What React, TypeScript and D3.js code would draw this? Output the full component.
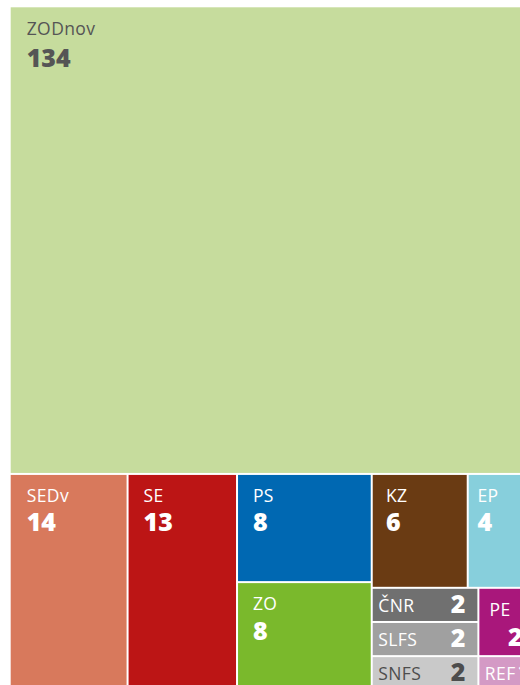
import React, { useRef, useEffect } from 'react';
import * as d3 from 'd3';

const names = ['ZODnov', 'SEDv', 'SE', 'PS', 'ZO', 'KZ', 'EP', 'ČNR', 'SLFS', 'SNFS', 'PE', 'REF'];
const values = [134, 14, 13, 8, 8, 6, 4, 2, 2, 2, 2, 1];
const colors = ['#c6dc9d', '#d8795c', '#bc1515', '#0068b2', '#7ab92c', '#6a3b13', '#87cfdc', '#707070', '#a0a0a0', '#c9c9c9', '#a9177b', '#d49ac5'];
const textColors = ['#555', '#fff', '#fff', '#fff', '#fff', '#fff', '#fff', '#fff', '#fff', '#4d4d4d', '#fff', '#fff'];
// how many tiles go into each strip of the layout
const strips = [1, 1, 1, 2, 2, 3, 2];

const W = 520;
const H = 682;

// strip tiling: rows along the top while the space is taller than wide, columns otherwise
function stripTile(parent: any, x0: number, y0: number, x1: number, y1: number) {
  const nodes = parent.children;
  let rest = parent.value;
  let i = 0;
  strips.forEach((n, k) => {
    const kids = nodes.slice(i, i + n);
    i += n;
    const sum = d3.sum(kids, (d: any) => d.value);
    const row = { children: kids, value: sum } as any;
    const dx = x1 - x0, dy = y1 - y0;
    if (k === strips.length - 1) {
      if (dx >= dy) d3.treemapDice(row, x0, y0, x1, y1);
      else d3.treemapSlice(row, x0, y0, x1, y1);
    } else if (dx < dy) {
      const h = dy * sum / rest;
      d3.treemapDice(row, x0, y0, x1, y0 + h);
      y0 += h;
    } else {
      const w = dx * sum / rest;
      d3.treemapSlice(row, x0, y0, x0 + w, y1);
      x0 += w;
    }
    rest -= sum;
  });
}

const App: React.FC = () => {
  const ref = useRef<SVGSVGElement>(null);

  useEffect(() => {
    const svg = d3.select(ref.current);
    svg.selectAll('*').remove();

    const data = names.map((n, i) => ({ name: n, value: values[i], color: colors[i], text: textColors[i] }));
    const root = d3.hierarchy<any>({ children: data })
      .sum((d: any) => d.value || 0)
      .sort((a, b) => (b.value || 0) - (a.value || 0));

    d3.treemap<any>()
      .tile(stripTile as any)
      .size([W, H])
      .paddingInner(2)(root);

    const g = svg.append('g').attr('transform', 'translate(10.7,7.3)');

    const cell = g.selectAll('g.cell')
      .data(root.leaves() as d3.HierarchyRectangularNode<any>[])
      .enter().append('g')
      .attr('class', 'cell');

    cell.append('rect')
      .attr('x', d => d.x0)
      .attr('y', d => d.y0)
      .attr('width', d => d.x1 - d.x0)
      .attr('height', d => d.y1 - d.y0)
      .attr('fill', d => d.data.color);

    cell.each(function (d) {
      const c = d3.select(this);
      const w = d.x1 - d.x0;
      const h = d.y1 - d.y0;
      const pad = Math.min(16, 0.14 * Math.min(w, h));
      const name = c.append('text')
        .attr('fill', d.data.text)
        .style('font-size', '17.5px')
        .style('letter-spacing', '0.4px')
        .text(d.data.name);
      const val = c.append('text')
        .attr('fill', d.data.text)
        .style('font-size', '25px')
        .style('font-weight', 800)
        .text(d.data.value);
      if (h < 50) {
        // one line: name left, value right (but never on top of the name)
        const nx = d.x0 + pad + 1;
        name.attr('x', nx).attr('y', d.y0 + h / 2 + 7);
        const nw = (name.node() as SVGTextElement).getComputedTextLength();
        const vw = (val.node() as SVGTextElement).getComputedTextLength();
        const vx = Math.max(d.x1 - 12 - vw, nx + nw + 2);
        val.attr('x', vx).attr('y', d.y0 + h / 2 + 8);
        return;
      }
      const big = Math.min(w, h) > 200;
      name.attr('x', d.x0 + pad + (w < 55 ? 3 : 0)).attr('y', d.y0 + (big ? 28 : 27));
      if (w < 55) {
        val.attr('x', d.x1 - 8).attr('y', d.y0 + 57).attr('text-anchor', 'end');
      } else {
        val.attr('x', d.x0 + pad).attr('y', d.y0 + (big ? 60 : 56.5));
      }
    });
  }, []);

  return (
    <div style={{ position: 'fixed', left: 0, top: 0, width: 520, height: 685, overflow: 'hidden', background: '#fff' }}>
      <svg ref={ref} width={540} height={700} style={{ display: 'block', fontFamily: '"Open Sans", sans-serif' }} />
    </div>
  );
};

export default App;
